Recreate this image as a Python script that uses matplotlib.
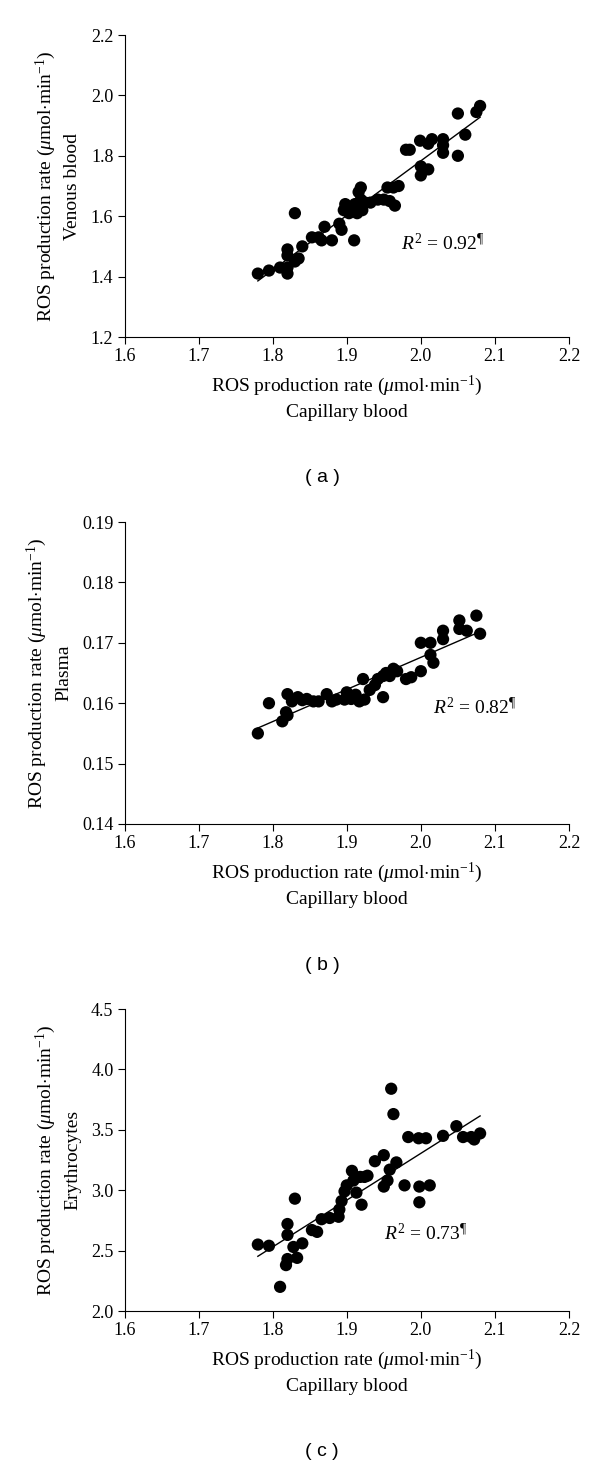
import numpy as np
import matplotlib
matplotlib.use('Agg')
import matplotlib.pyplot as plt

# --- valores ---
cap_a = [1.78, 1.795, 1.81, 1.82, 1.82, 1.82, 1.82, 1.83, 1.835, 1.83, 1.84, 1.853, 1.862,
         1.87, 1.866, 1.88, 1.89, 1.893, 1.896, 1.898, 1.91, 1.903, 1.906, 1.911, 1.914,
         1.916, 1.919, 1.919, 1.921, 1.925, 1.932, 1.942, 1.95, 1.958, 1.965, 1.955, 1.963,
         1.97, 1.98, 1.985, 1.999, 2.0, 2.0, 2.01, 2.01, 2.015, 2.03, 2.03, 2.03, 2.05, 2.05,
         2.06, 2.075, 2.08]
ven_a = [1.41, 1.42, 1.43, 1.49, 1.47, 1.41, 1.43, 1.45, 1.46, 1.61, 1.50, 1.53, 1.53,
         1.565, 1.52, 1.52, 1.575, 1.555, 1.62, 1.64, 1.52, 1.61, 1.63, 1.64, 1.61,
         1.68, 1.695, 1.655, 1.62, 1.645, 1.645, 1.655, 1.655, 1.65, 1.635, 1.695, 1.695,
         1.70, 1.82, 1.82, 1.85, 1.765, 1.735, 1.755, 1.84, 1.855, 1.855, 1.835, 1.81, 1.94, 1.80,
         1.87, 1.945, 1.965]

cap_b = [1.78, 1.795, 1.813, 1.818, 1.82, 1.82, 1.826, 1.834, 1.84, 1.846, 1.855, 1.862,
         1.873, 1.88, 1.886, 1.897, 1.90, 1.906, 1.912, 1.917, 1.924, 1.922, 1.931, 1.938,
         1.942, 1.949, 1.949, 1.953, 1.958, 1.963, 1.968, 1.98, 1.987, 2.0, 2.0, 2.013,
         2.013, 2.017, 2.03, 2.03, 2.052, 2.052, 2.062, 2.075, 2.08]
pla_b = [0.155, 0.160, 0.157, 0.1585, 0.158, 0.1615, 0.1603, 0.161, 0.1605, 0.1607, 0.1603, 0.1603,
         0.1615, 0.1603, 0.1606, 0.1606, 0.1618, 0.1607, 0.1614, 0.1603, 0.1606, 0.164, 0.1622, 0.163,
         0.164, 0.161, 0.1645, 0.165, 0.1645, 0.1657, 0.1653, 0.164, 0.1643, 0.1653, 0.170, 0.170,
         0.168, 0.1667, 0.172, 0.1706, 0.1737, 0.1723, 0.172, 0.1745, 0.1715]

cap_c = [1.78, 1.795, 1.81, 1.818, 1.82, 1.82, 1.82, 1.828, 1.83, 1.833, 1.84, 1.853, 1.86,
         1.866, 1.877, 1.889, 1.89, 1.893, 1.897, 1.90, 1.907, 1.909, 1.913, 1.918, 1.92,
         1.924, 1.928, 1.938, 1.95, 1.95, 1.955, 1.958, 1.967, 1.96, 1.963, 1.978, 1.983,
         1.997, 1.998, 1.998, 2.007, 2.012, 2.03, 2.048, 2.057, 2.068, 2.072, 2.08]
ery_c = [2.55, 2.54, 2.20, 2.38, 2.43, 2.63, 2.72, 2.53, 2.93, 2.44, 2.56, 2.67, 2.655,
         2.76, 2.77, 2.78, 2.84, 2.91, 2.99, 3.04, 3.16, 3.08, 2.98, 3.11, 2.88,
         3.11, 3.12, 3.24, 3.29, 3.03, 3.08, 3.17, 3.23, 3.84, 3.63, 3.04, 3.44,
         3.43, 3.03, 2.90, 3.43, 3.04, 3.45, 3.53, 3.44, 3.44, 3.42, 3.47]

paineis = [
    (cap_a, ven_a, 'Venous blood', (1.2, 2.2), [1.2, 1.4, 1.6, 1.8, 2.0, 2.2], '%.1f',
     '0.92', (1.973, 1.51), '( a )'),
    (cap_b, pla_b, 'Plasma', (0.14, 0.19), [0.14, 0.15, 0.16, 0.17, 0.18, 0.19], '%.2f',
     '0.82', (2.017, 0.1593), '( b )'),
    (cap_c, ery_c, 'Erythrocytes', (2.0, 4.5), [2.0, 2.5, 3.0, 3.5, 4.0, 4.5], '%.1f',
     '0.73', (1.95, 2.64), '( c )'),
]
x_ticks = [1.6, 1.7, 1.8, 1.9, 2.0, 2.1, 2.2]

plt.rcParams['font.family'] = 'Liberation Serif'
plt.rcParams['mathtext.fontset'] = 'custom'
plt.rcParams['mathtext.rm'] = 'Liberation Serif'
plt.rcParams['mathtext.it'] = 'Liberation Serif:italic'

fig = plt.figure(figsize=(6, 14.71), dpi=100)
H = 1471.0

for k, (xs, ys, nome, ylim, yticks, fmt, r2, pos, letra) in enumerate(paineis):
    top = 35 + 487 * k
    bottom = 337 + 487 * k
    ax = fig.add_axes([124.5 / 600, 1 - bottom / H, (569 - 124.5) / 600, (bottom - top) / H])

    ax.scatter(xs, ys, s=78, color='black', edgecolors='none', zorder=3)
    # reta de regressão
    coef = np.polyfit(xs, ys, 1)
    xr = np.array([min(xs), max(xs)])
    ax.plot(xr, np.polyval(coef, xr), color='black', lw=1.0, zorder=2)

    ax.set_xlim(1.6, 2.2)
    ax.set_ylim(*ylim)
    ax.set_xticks(x_ticks)
    ax.set_xticklabels(['%.1f' % v for v in x_ticks])
    ax.set_yticks(yticks)
    ax.set_yticklabels([fmt % v for v in yticks])
    ax.spines['top'].set_visible(False)
    ax.spines['right'].set_visible(False)
    for s in ('left', 'bottom'):
        ax.spines[s].set_linewidth(0.8)
    ax.tick_params(direction='out', length=5, width=0.8, labelsize=13, pad=3)

    ax.set_xlabel('ROS production rate ($\\mu$mol$\\cdot$min$^{-1}$)\nCapillary blood',
                  fontsize=14, linespacing=1.45, labelpad=6)
    ax.set_ylabel('ROS production rate ($\\mu$mol$\\cdot$min$^{-1}$)\n' + nome,
                  fontsize=14, linespacing=1.5, labelpad=7)

    ax.text(pos[0], pos[1], '$R^2$ = ' + r2 + '$^{¶}$', fontsize=14, va='center', ha='left')

    fig.text(322 / 600, 1 - (478 + 487 * k) / H, letra, family='Liberation Sans',
             fontsize=14, ha='center', va='center')

fig.savefig('out.png', dpi=100)
